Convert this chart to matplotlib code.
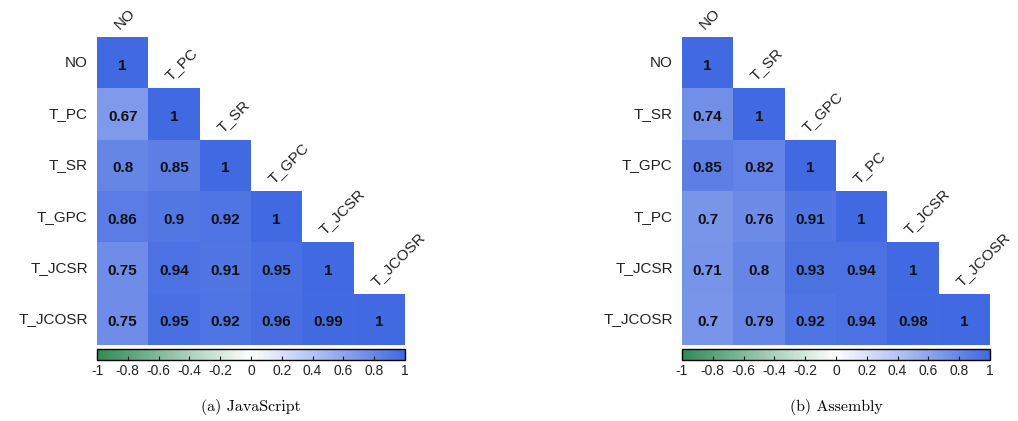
import numpy as np
import matplotlib.pyplot as plt
from matplotlib.colors import LinearSegmentedColormap, Normalize
from matplotlib.colorbar import ColorbarBase

# JavaScript panel
js_labels = ["NO", "T_PC", "T_SR", "T_GPC", "T_JCSR", "T_JCOSR"]
js_lower = [
    [],
    [0.67],
    [0.8, 0.85],
    [0.86, 0.9, 0.92],
    [0.75, 0.94, 0.91, 0.95],
    [0.75, 0.95, 0.92, 0.96, 0.99],
]

# Assembly panel
asm_labels = ["NO", "T_SR", "T_GPC", "T_PC", "T_JCSR", "T_JCOSR"]
asm_lower = [
    [],
    [0.74],
    [0.85, 0.82],
    [0.7, 0.76, 0.91],
    [0.71, 0.8, 0.93, 0.94],
    [0.7, 0.79, 0.92, 0.94, 0.98],
]

captions = ["(a) JavaScript", "(b) Assembly"]

cmap = LinearSegmentedColormap.from_list("gwb", ["#2e8b57", "white", "#4169e1"])
norm = Normalize(-1, 1)
plt.rcParams['font.family'] = ['Liberation Sans', 'DejaVu Sans']

fig = plt.figure(figsize=(10.18, 4.21), dpi=100)
W, H = 1018.0, 421.0


def fmt(v):
    return "1" if v == 1 else ("%g" % v)


def draw_panel(x0, labels, lower, caption):
    n = len(labels)
    mat = np.full((n, n), np.nan)
    for i, row in enumerate(lower):
        for j, v in enumerate(row):
            mat[i, j] = v
        mat[i, i] = 1.0
    ax = fig.add_axes([x0 / W, (H - 345) / H, 308 / W, 308 / H])
    ax.imshow(np.ma.masked_invalid(mat), cmap=cmap, norm=norm,
              extent=(-0.5, n - 0.5, n - 0.5, -0.5), interpolation='nearest')
    ax.set_xlim(-0.5, n - 0.5)
    ax.set_ylim(n - 0.5, -0.5)
    ax.axis('off')
    for i in range(n):
        for j in range(i + 1):
            ax.text(j, i + 0.06, fmt(mat[i, j]), ha='center', va='center',
                    fontsize=11, fontweight='bold', color='#111111')
        ax.text(-0.68, i, labels[i], ha='right', va='center', fontsize=11,
                color='#222222', clip_on=False)
        ax.text(i - 0.02, i - 0.6, labels[i], ha='left', va='bottom',
                rotation=45, rotation_mode='anchor', fontsize=11,
                color='#222222', clip_on=False)

    cax = fig.add_axes([x0 / W, (H - 360) / H, 308 / W, 11 / H])
    cb = ColorbarBase(cax, cmap=cmap, norm=norm, orientation='horizontal',
                      ticks=np.linspace(-1, 1, 11))
    cb.ax.set_xticklabels([fmt(round(t, 1)) for t in np.linspace(-1, 1, 11)])
    cb.ax.tick_params(labelsize=10, length=3, direction='in', pad=3, colors='#222222')
    cb.outline.set_linewidth(1.0)

    fig.text((x0 + 154) / W, (H - 407) / H, caption, ha='center', va='center',
             fontsize=11.5, family=['cmr10', 'DejaVu Serif'])


draw_panel(97, js_labels, js_lower, captions[0])
draw_panel(682, asm_labels, asm_lower, captions[1])

fig.savefig("out.png", dpi=100)
